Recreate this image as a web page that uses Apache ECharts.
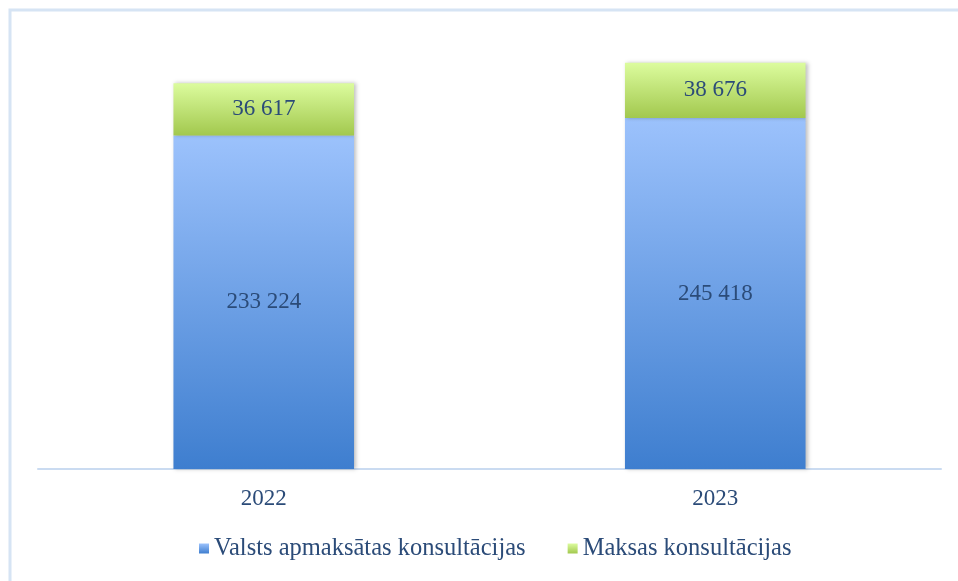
<!DOCTYPE html>
<html>
<head>
<meta charset="utf-8">
<style>
  html, body { margin: 0; padding: 0; background: #fff; }
  #chart { width: 958px; height: 581px; }
</style>
<script src="https://cdn.jsdelivr.net/npm/echarts@6/dist/echarts.min.js"></script>
</head>
<body>
<div id="chart"></div>
<script>
var years = ['2022', '2023']
var seriesNames = ['Valsts apmaksātas konsultācijas', 'Maksas konsultācijas']
var stateFunded = [233224, 245418]
var paid = [36617, 38676]

var textColor = '#2B4B78'
var serif = '"Liberation Serif", "Times New Roman", serif'

function fmt(v) {
    return String(v).replace(/\B(?=(\d{3})+(?!\d))/g, ' ')
}

var blueGrad = new echarts.graphic.LinearGradient(0, 0, 0, 1, [
    { offset: 0, color: '#9CC2FC' },
    { offset: 1, color: '#3E7ECF' }
])
var greenGrad = new echarts.graphic.LinearGradient(0, 0, 0, 1, [
    { offset: 0, color: '#DCFC9E' },
    { offset: 1, color: '#A2C84E' }
])

var chart = echarts.init(document.getElementById('chart'), null, { renderer: 'canvas' })

chart.setOption({
    animation: false,
    graphic: [
        {
            type: 'polyline',
            shape: { points: [[10, 581], [10, 10], [958, 10]] },
            style: { stroke: '#D6E4F4', lineWidth: 3, fill: null }
        }
    ],
    legend: {
        bottom: 15,
        left: 194,
        itemWidth: 10,
        itemHeight: 10,
        itemGap: 42,
        icon: 'rect',
        textStyle: { color: textColor, fontFamily: serif, fontSize: 24.5 },
        data: seriesNames
    },
    grid: {
        top: 40,
        left: 38,
        right: 17,
        bottom: 112
    },
    xAxis: {
        type: 'category',
        data: years,
        axisLine: { lineStyle: { color: '#CADBF1', width: 2 } },
        axisTick: { show: false },
        axisLabel: {
            color: textColor,
            fontFamily: serif,
            fontSize: 23,
            margin: 18
        }
    },
    yAxis: {
        type: 'value',
        min: 0,
        max: 300000,
        show: false,
        splitLine: { show: false }
    },
    series: [
        {
            name: seriesNames[0],
            type: 'bar',
            stack: 'total',
            barWidth: '40%',
            data: stateFunded,
            itemStyle: {
                color: blueGrad,
                shadowColor: 'rgba(0,0,0,0.25)',
                shadowBlur: 4,
                shadowOffsetX: 2
            },
            label: {
                show: true,
                position: 'inside',
                color: textColor,
                fontFamily: serif,
                fontSize: 23,
                formatter: function(p) { return fmt(p.value) }
            }
        },
        {
            name: seriesNames[1],
            type: 'bar',
            stack: 'total',
            barWidth: '40%',
            data: paid,
            itemStyle: {
                color: greenGrad,
                shadowColor: 'rgba(0,0,0,0.25)',
                shadowBlur: 4,
                shadowOffsetX: 2
            },
            label: {
                show: true,
                position: 'inside',
                color: textColor,
                fontFamily: serif,
                fontSize: 23,
                formatter: function(p) { return fmt(p.value) }
            }
        }
    ]
})
</script>
</body>
</html>
